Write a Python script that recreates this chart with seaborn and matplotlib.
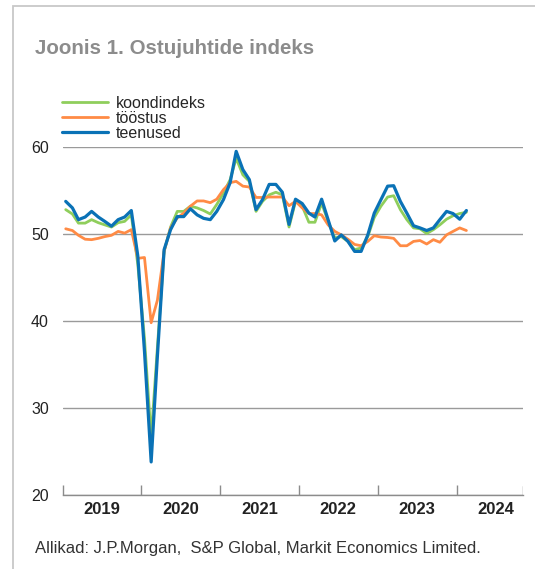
import pandas as pd
import numpy as np
import matplotlib as mpl
import matplotlib.dates as mdates
from matplotlib import pyplot as plt
from matplotlib.patches import Rectangle
import seaborn as sns

# monthly values, first point drawn in Jan 2019 as in the original figure
months = pd.date_range('2019-01-01', periods=62, freq='MS') + pd.Timedelta(days=14)

koondindeks = [52.8, 52.3, 51.25, 51.25, 51.65, 51.3, 51.05, 50.8, 51.3, 51.45,
               52.2, 46.5, 38.0, 26.6, 37.0, 48.0, 50.8, 52.6, 52.6, 53.2,
               53.0, 52.7, 52.3, 53.4, 54.7, 56.25, 58.7, 56.8, 56.05, 52.6,
               53.75, 54.5, 54.8, 54.5, 50.8, 53.75, 53.2, 51.35, 51.35, 53.55,
               51.45, 49.55, 49.7, 49.15, 48.2, 48.4, 49.7, 51.9, 53.2, 54.25,
               54.4, 52.8, 51.65, 50.7, 50.6, 50.05, 50.5, 51.05, 51.7, 52.1,
               52.35, 52.5]
toostus = [50.6, 50.4, 49.85, 49.4, 49.35, 49.5, 49.7, 49.85, 50.3, 50.1,
           50.5, 47.2, 47.3, 39.8, 42.4, 48.0, 50.7, 51.85, 52.4, 53.2,
           53.8, 53.8, 53.6, 54.0, 55.1, 55.9, 56.05, 55.5, 55.4, 54.2,
           54.2, 54.25, 54.25, 54.25, 53.25, 53.75, 53.0, 52.35, 52.35, 52.2,
           51.05, 50.3, 49.9, 49.4, 48.8, 48.65, 49.15, 49.8, 49.65, 49.6,
           49.5, 48.65, 48.65, 49.15, 49.25, 48.85, 49.35, 49.05, 49.9, 50.3,
           50.7, 50.4]
teenused = [53.75, 53.0, 51.65, 51.95, 52.6, 51.95, 51.45, 50.9, 51.65, 51.95,
            52.7, 47.5, 36.5, 23.8, 36.0, 48.2, 50.5, 52.0, 52.0, 52.9,
            52.2, 51.8, 51.65, 52.6, 53.95, 55.9, 59.5, 57.4, 56.25, 52.8,
            53.95, 55.7, 55.7, 54.8, 51.1, 54.0, 53.5, 52.4, 51.95, 54.0,
            51.65, 49.2, 49.9, 49.15, 48.0, 48.0, 49.9, 52.4, 53.95, 55.5,
            55.55, 53.75, 52.4, 50.95, 50.7, 50.4, 50.7, 51.65, 52.6, 52.35,
            51.7, 52.7]

series_names = ['koondindeks', 'tööstus', 'teenused']
colors = ['#8fce5c', '#ff8b45', '#0a72b6']

df = pd.concat([
    pd.DataFrame({'kuu': months, 'indeks': vals, 'seeria': name})
    for name, vals in zip(series_names, [koondindeks, toostus, teenused])
])

sns.set_theme(style='white')
plt.rcParams['font.family'] = ['Liberation Sans', 'DejaVu Sans']

fig = plt.figure(figsize=(5.35, 5.69), dpi=100)
ax = fig.add_axes([62.7 / 535, 1 - 495 / 569, (522.5 - 62.7) / 535, (495 - 147) / 569])

sns.lineplot(data=df, x='kuu', y='indeks', hue='seeria', hue_order=series_names,
             palette=colors, linewidth=2.0, ax=ax)
for line in ax.lines:
    if line.get_color() == colors[2]:
        line.set_linewidth(2.3)

ax.set_ylim(20, 60)
ax.set_xlim(pd.Timestamp('2019-01-01'), pd.Timestamp('2024-11-01'))
ax.set_yticks([20, 30, 40, 50, 60])
ax.yaxis.grid(True, color='#9a9a9a', linewidth=1.0)
ax.xaxis.grid(False)
ax.set_xlabel('')
ax.set_ylabel('')

ax.xaxis.set_major_locator(mdates.YearLocator())
ax.xaxis.set_major_formatter(mpl.ticker.NullFormatter())
ax.xaxis.set_minor_locator(mdates.MonthLocator(bymonth=7))
ax.xaxis.set_minor_formatter(mdates.DateFormatter('%Y'))
ax.tick_params(axis='x', which='major', direction='in', length=7, width=1.0,
               color='#8c8c8c', bottom=True)
ax.tick_params(axis='x', which='minor', length=0, pad=5, labelsize=12,
               labelcolor='#222222')
for lbl in ax.xaxis.get_minorticklabels():
    lbl.set_fontweight('bold')
ax.tick_params(axis='y', length=0, pad=10, labelsize=11.5, labelcolor='#222222')

for s in ['top', 'right', 'left']:
    ax.spines[s].set_visible(False)
ax.spines['bottom'].set_color('#8c8c8c')
ax.spines['bottom'].set_linewidth(1.0)
# small closing tick at the right end
ax.axvline(pd.Timestamp('2024-11-01'), ymin=0, ymax=0.025, color='#8c8c8c', lw=1.0)

handles, labels = ax.get_legend_handles_labels()
ax.get_legend().remove()
fig.legend(handles, labels, loc='upper left', bbox_to_anchor=(62 / 535, 1 - 96 / 569),
           frameon=False, fontsize=11.5, handlelength=2.9, handletextpad=0.45,
           labelspacing=0.0, borderpad=0, borderaxespad=0)

fig.text(35 / 535, 1 - 48 / 569, 'Joonis 1. Ostujuhtide indeks', fontsize=14.8,
         fontweight='bold', color='#8c8c8c', va='center', ha='left')
fig.text(35 / 535, 1 - 548 / 569, 'Allikad: J.P.Morgan,  S&P Global, Markit Economics Limited.',
         fontsize=12, color='#333333', va='center', ha='left')

fig.patches.append(Rectangle((13 / 535, -0.1), 1.2, 1 - 6 / 569 + 0.1,
                             transform=fig.transFigure, fill=False,
                             edgecolor='#c8c8c8', linewidth=1.3))

fig.savefig('out.png', dpi=100)
